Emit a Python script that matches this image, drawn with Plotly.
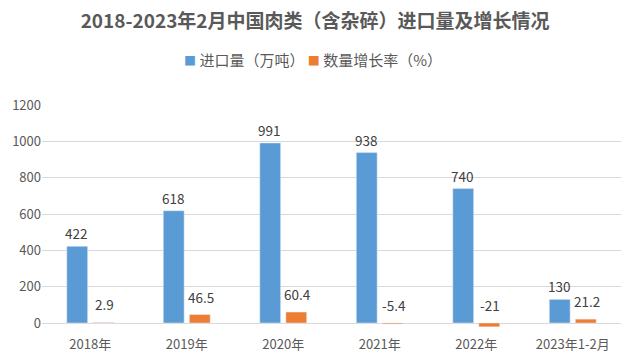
import plotly.graph_objects as go

categories = ["2018年", "2019年", "2020年", "2021年", "2022年", "2023年1-2月"]
import_volume = [422, 618, 991, 938, 740, 130]
growth_rate = [2.9, 46.5, 60.4, -5.4, -21, 21.2]
y_ticks = [0, 200, 400, 600, 800, 1000, 1200]
series_names = ["进口量（万吨）", "数量增长率（%）"]
series_colors = ["#5B9BD5", "#ED7D31"]

FONT = "Noto Sans CJK SC, Microsoft YaHei, sans-serif"
GRAY = "#595959"
LABEL = "#404040"

fig = go.Figure()
fig.add_trace(go.Bar(name=series_names[0], x=categories, y=import_volume,
                     marker_color=series_colors[0]))
fig.add_trace(go.Bar(name=series_names[1], x=categories, y=growth_rate,
                     marker_color=series_colors[1]))

annotations = []
for c, v in zip(categories, import_volume):
    annotations.append(dict(x=c, y=max(v, 0), text=str(v), showarrow=False,
                            xshift=-14, yshift=1, yanchor="bottom",
                            font=dict(size=13.5, color=LABEL, family=FONT)))
for c, v in zip(categories, growth_rate):
    annotations.append(dict(x=c, y=max(v, 0), text=f"{v:g}", showarrow=False,
                            xshift=14, yshift=6, yanchor="bottom",
                            font=dict(size=13.5, color=LABEL, family=FONT)))

# compact legend drawn as text (matches the reference's tight spacing)
legend_text = " ".join(
    f'<span style="color:{col};font-size:12px">■</span> {name}'
    for name, col in zip(series_names, series_colors)
)
annotations.append(dict(xref="paper", yref="paper", x=0.468, y=1.205,
                        xanchor="center", yanchor="middle", showarrow=False,
                        text=legend_text,
                        font=dict(size=15, color=GRAY, family=FONT)))

fig.update_layout(
    width=634, height=352,
    margin=dict(l=42, r=13, t=105, b=25),
    paper_bgcolor="white", plot_bgcolor="white",
    barmode="group", bargap=0.46, bargroupgap=0.2,
    showlegend=False,
    title=dict(text="<b>2018-2023年2月中国肉类（含杂碎）进口量及增长情况</b>",
               x=0.497, xanchor="center", y=0.94, yanchor="middle",
               font=dict(size=19, color=GRAY, family=FONT)),
    font=dict(family=FONT, color=GRAY),
    annotations=annotations,
    xaxis=dict(showline=False, ticks="", ticklabelstandoff=8, automargin=False,
               tickfont=dict(size=13, color=GRAY, family=FONT)),
    yaxis=dict(range=[-22, 1200], tickvals=y_ticks, showgrid=True, automargin=False,
               gridcolor="#D9D9D9", zeroline=False, ticks="",
               tickfont=dict(size=13, color=GRAY, family=FONT)),
)
fig.write_html("out.html")
